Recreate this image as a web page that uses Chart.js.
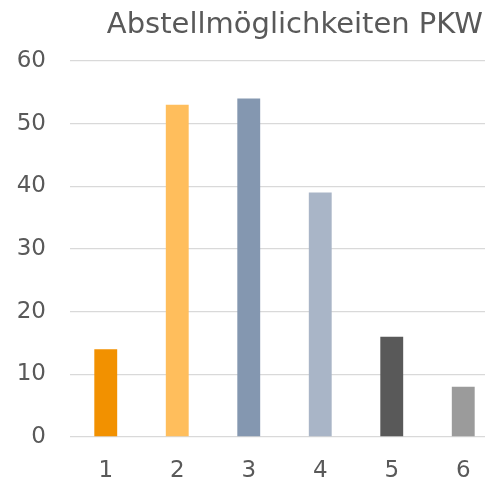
<!DOCTYPE html>
<html>
<head>
<meta charset="utf-8">
<script src="https://cdn.jsdelivr.net/npm/chart.js@4/dist/chart.umd.min.js"></script>
<style>
  html, body { margin: 0; padding: 0; background: #fff; overflow: hidden; }
  #wrap { width: 500px; height: 480px; }
</style>
</head>
<body>
<div id="wrap"><canvas id="c" width="500" height="480"></canvas></div>
<script>
const titleText = "Abstellmöglichkeiten PKW";
const categories = ["1", "2", "3", "4", "5", "6"];
const values = [14, 53, 54, 39, 16, 8];
const barColors = ["#F29100", "#FFBE5C", "#8497B0", "#A9B5C7", "#595959", "#9B9B9B"];
const yTicks = [0, 10, 20, 30, 40, 50, 60];

const titlePlugin = {
  id: "rightTitle",
  afterDraw(chart) {
    const ctx = chart.ctx;
    ctx.save();
    ctx.font = "29px 'DejaVu Sans'";
    ctx.fillStyle = "#595959";
    ctx.textAlign = "right";
    ctx.textBaseline = "alphabetic";
    ctx.fillText(titleText, 483, 33);
    ctx.restore();
  }
};

new Chart(document.getElementById("c"), {
  type: "bar",
  data: {
    labels: categories,
    datasets: [{
      data: values,
      backgroundColor: barColors,
      borderWidth: 0,
      barPercentage: 1,
      categoryPercentage: 0.32
    }]
  },
  options: {
    responsive: false,
    animation: false,
    layout: { padding: { top: 61, right: 1, bottom: 0, left: 0 } },
    plugins: { legend: { display: false }, tooltip: { enabled: false } },
    scales: {
      x: {
        grid: { display: false, drawTicks: false },
        border: { display: false },
        ticks: { color: "#595959", font: { family: "DejaVu Sans", size: 23 }, padding: 20 },
        afterFit(scale) { scale.height = 43; }
      },
      y: {
        min: 0, max: 60,
        afterBuildTicks(scale) { scale.ticks = yTicks.map(v => ({ value: v })); },
        grid: { color: "#D9D9D9", lineWidth: 1.3, drawTicks: false },
        border: { display: false },
        ticks: { color: "#595959", font: { family: "DejaVu Sans", size: 23 }, padding: 24 },
        afterFit(scale) { scale.width = 70; }
      }
    }
  },
  plugins: [titlePlugin]
});
</script>
</body>
</html>
